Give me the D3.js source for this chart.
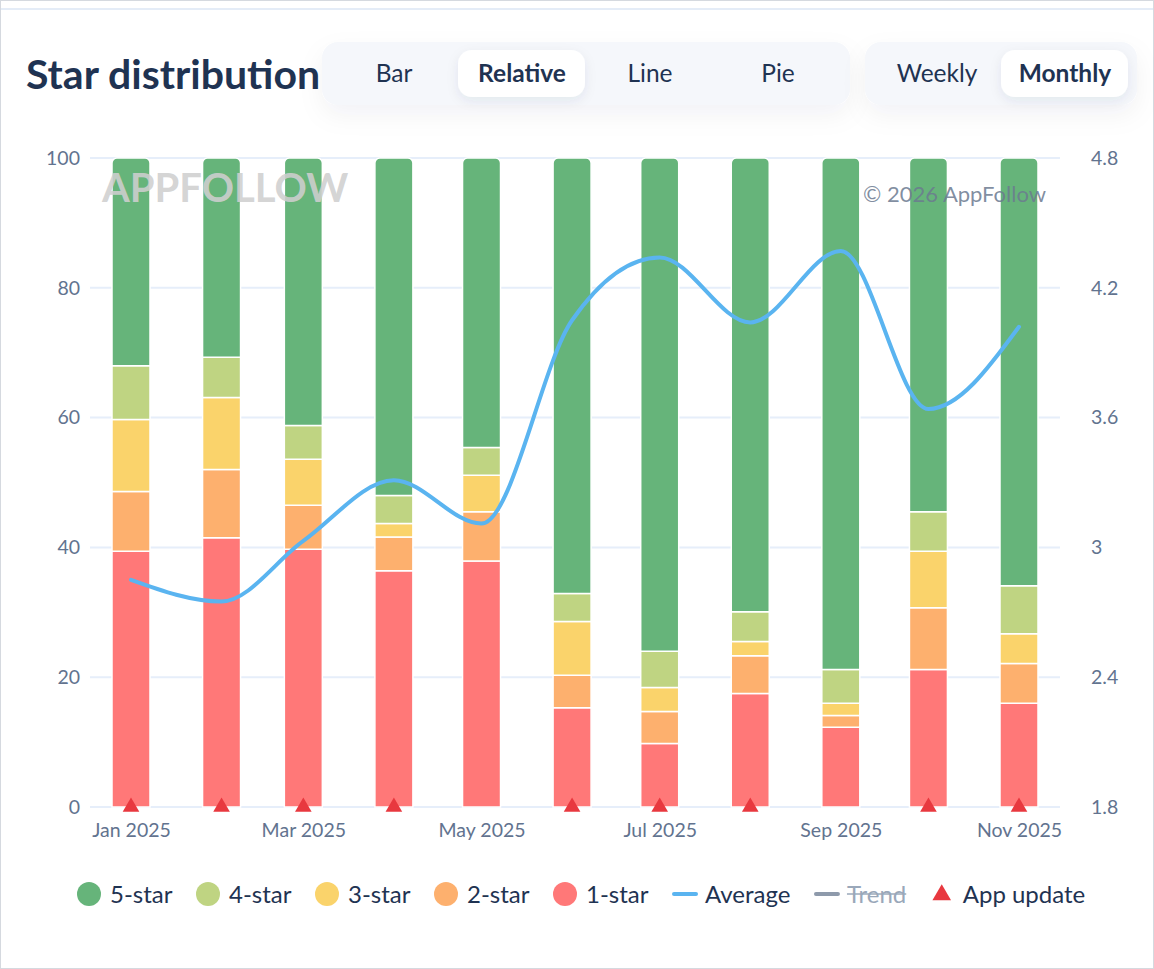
<!DOCTYPE html>
<html>
<head>
<meta charset="utf-8">
<script src="https://cdn.jsdelivr.net/npm/d3@7"></script>
<style>
  body { margin: 0; background: #fff; }
  svg { display: block; font-family: Lato, "Open Sans", sans-serif; }
</style>
</head>
<body>
<div id="chart"></div>
<script>
// monthly data
var months = ["2025-01", "2025-02", "2025-03", "2025-04", "2025-05", "2025-06",
              "2025-07", "2025-08", "2025-09", "2025-10", "2025-11"];
var oneStar   = [39.4, 41.5, 39.7, 36.4, 37.9, 15.3, 9.8, 17.5, 12.3, 21.2, 16.0];
var twoStar   = [9.2, 10.5, 6.8, 5.2, 7.6, 5.0, 4.9, 5.8, 1.8, 9.5, 6.1];
var threeStar = [11.1, 11.1, 7.1, 2.1, 5.6, 8.3, 3.7, 2.2, 1.9, 8.7, 4.6];
var fourStar  = [8.3, 6.2, 5.2, 4.3, 4.3, 4.3, 5.6, 4.6, 5.2, 6.1, 7.4];
var fiveStar  = [32.0, 30.7, 41.2, 52.0, 44.6, 67.1, 76.0, 69.9, 78.8, 54.5, 65.9];
var average   = [2.85, 2.75, 3.03, 3.31, 3.11, 4.05, 4.34, 4.04, 4.37, 3.64, 4.02];
var appUpdates = ["2025-01", "2025-02", "2025-03", "2025-04", "2025-06",
                  "2025-07", "2025-08", "2025-10", "2025-11"];

var leftTicks  = [0, 20, 40, 60, 80, 100];
var rightTicks = [1.8, 2.4, 3, 3.6, 4.2, 4.8];
var xTicks     = ["2025-01", "2025-03", "2025-05", "2025-07", "2025-09", "2025-11"];

var chartTypes = ["Bar", "Relative", "Line", "Pie"];
var periods    = ["Weekly", "Monthly"];

var keys = ["1-star", "2-star", "3-star", "4-star", "5-star"];
var legendKeys = ["5-star", "4-star", "3-star", "2-star", "1-star"];

var width = 1154;
var height = 969;
var navy = "#1f3352";
var axisGrey = "#62738f";

var colour = d3.scaleOrdinal()
    .domain(keys)
    .range(["#ff7878", "#fdb06e", "#fad36b", "#bfd482", "#66b47a"]);

var parse = d3.utcParse("%Y-%m");

var rows = months.map(function(m, i) {
    return {
        date: parse(m),
        "1-star": oneStar[i],
        "2-star": twoStar[i],
        "3-star": threeStar[i],
        "4-star": fourStar[i],
        "5-star": fiveStar[i],
        avg: average[i]
    };
});

var x = d3.scaleUtc()
    .domain([parse("2025-01"), parse("2025-11")])
    .range([131, 1019]);

var y = d3.scaleLinear().domain([0, 100]).range([807, 158]);
var yRight = d3.scaleLinear().domain([1.8, 4.8]).range([807, 158]);

var svg = d3.select("#chart")
    .append("svg")
    .attr("width", width)
    .attr("height", height);

var defs = svg.append("defs");
var shadow = defs.append("filter")
    .attr("id", "soft")
    .attr("x", "-30%").attr("y", "-60%")
    .attr("width", "160%").attr("height", "220%");
shadow.append("feDropShadow")
    .attr("dx", 0).attr("dy", 4)
    .attr("stdDeviation", 6)
    .attr("flood-color", "#1f3352")
    .attr("flood-opacity", 0.08);

var groupShadow = defs.append("filter")
    .attr("id", "groupShadow")
    .attr("x", "-20%").attr("y", "-50%")
    .attr("width", "140%").attr("height", "250%");
groupShadow.append("feDropShadow")
    .attr("dx", 0).attr("dy", 10)
    .attr("stdDeviation", 12)
    .attr("flood-color", "#1f3352")
    .attr("flood-opacity", 0.05);

// card frame
svg.append("rect")
    .attr("x", 0.5).attr("y", 0.5)
    .attr("width", width - 1).attr("height", height - 1)
    .attr("fill", "#fff")
    .attr("stroke", "#d5d9df");
svg.append("line")
    .attr("x1", 1).attr("x2", width - 1)
    .attr("y1", 9).attr("y2", 9)
    .attr("stroke", "#e4ecf7")
    .attr("stroke-width", 2);

// title
svg.append("text")
    .attr("x", 26).attr("y", 89)
    .attr("fill", navy)
    .style("font-size", "41px")
    .style("font-weight", 700)
    .text("Star distribution");

// toggle groups
function toggleGroup(labels, active, x0) {
    var bw = 128;
    var g = svg.append("g").attr("transform", "translate(" + x0 + ",42)");
    g.append("rect")
        .attr("width", labels.length * bw + 16)
        .attr("height", 63)
        .attr("rx", 16)
        .attr("fill", "#f5f7fb")
        .attr("filter", "url(#groupShadow)");
    var b = g.selectAll("g.btn")
        .data(labels)
        .enter()
        .append("g")
        .attr("class", "btn")
        .attr("transform", function(d, i) { return "translate(" + (8 + i * bw) + ",8)"; });
    b.filter(function(d) { return d === active; })
        .append("rect")
        .attr("width", bw - 1)
        .attr("height", 47)
        .attr("rx", 14)
        .attr("fill", "#fff")
        .attr("filter", "url(#soft)");
    b.append("text")
        .attr("x", bw / 2)
        .attr("y", 32)
        .attr("text-anchor", "middle")
        .attr("fill", navy)
        .style("font-size", "24.5px")
        .style("font-weight", function(d) { return d === active ? 700 : 400; })
        .text(function(d) { return d; });
}
toggleGroup(chartTypes, "Relative", 322);
toggleGroup(periods, "Monthly", 865);

// grid lines
svg.append("g")
    .selectAll("line")
    .data(leftTicks)
    .enter()
    .append("line")
    .attr("x1", 90).attr("x2", 1060)
    .attr("y1", function(d) { return y(d); })
    .attr("y2", function(d) { return y(d); })
    .attr("stroke", "#e6eefa")
    .attr("stroke-width", 2);

// axes
var leftAxis = svg.append("g")
    .attr("transform", "translate(80,0)")
    .call(d3.axisLeft(y).tickValues(leftTicks).tickSize(0).tickPadding(0));
var rightAxis = svg.append("g")
    .attr("transform", "translate(1091,0)")
    .call(d3.axisRight(yRight).tickValues(rightTicks).tickSize(0).tickPadding(0)
        .tickFormat(d3.format("~g")));
var bottomAxis = svg.append("g")
    .attr("transform", "translate(0,807)")
    .call(d3.axisBottom(x).tickValues(xTicks.map(parse)).tickSize(0).tickPadding(16)
        .tickFormat(d3.utcFormat("%b %Y")));

[leftAxis, rightAxis, bottomAxis].forEach(function(a) {
    a.select(".domain").remove();
    a.selectAll("text")
        .attr("fill", axisGrey)
        .style("font-family", "Lato, sans-serif")
        .style("font-size", "19.5px");
});

// stacked bars
var stacked = d3.stack().keys(keys)(rows);
var bw = 38;
var radius = 5;

function topRounded(x0, y0, w, h, r) {
    var p = d3.path();
    p.moveTo(x0, y0 + h);
    p.lineTo(x0, y0 + r);
    p.arcTo(x0, y0, x0 + r, y0, r);
    p.lineTo(x0 + w - r, y0);
    p.arcTo(x0 + w, y0, x0 + w, y0 + r, r);
    p.lineTo(x0 + w, y0 + h);
    p.closePath();
    return p.toString();
}

var layers = svg.append("g")
    .selectAll("g.layer")
    .data(stacked)
    .enter()
    .append("g")
    .attr("class", "layer")
    .attr("fill", function(d) { return colour(d.key); });

layers.selectAll("path")
    .data(function(d) { return d.map(function(s) { return { s: s, top: d.key === "5-star" }; }); })
    .enter()
    .append("path")
    .attr("d", function(d) {
        var x0 = x(d.s.data.date) - bw / 2;
        var y0 = y(d.s[1]);
        var h = y(d.s[0]) - y(d.s[1]);
        return topRounded(x0, y0, bw, h, d.top ? radius : 0);
    })
    .attr("stroke", "#fff")
    .attr("stroke-width", 1.5);

// watermark
svg.append("text")
    .attr("x", 102).attr("y", 202)
    .attr("fill", "#cfcfcf")
    .attr("fill-opacity", 0.9)
    .style("font-size", "40px")
    .style("font-weight", 700)
    .text("APPFOLLOW");
svg.append("text")
    .attr("x", 1046).attr("y", 202)
    .attr("text-anchor", "end")
    .attr("fill", "#6b7a90")
    .attr("fill-opacity", 0.85)
    .style("font-size", "22px")
    .text("\u00a9 2026 AppFollow");

// average line
var line = d3.line()
    .x(function(d) { return x(d.date); })
    .y(function(d) { return yRight(d.avg); })
    .curve(d3.curveMonotoneX);

svg.append("path")
    .datum(rows)
    .attr("d", line)
    .attr("fill", "none")
    .attr("stroke", "#5ab4f0")
    .attr("stroke-width", 4)
    .attr("stroke-linecap", "round");

// app update markers
var tri = d3.symbol().type(d3.symbolTriangle).size(120);
svg.append("g")
    .selectAll("path")
    .data(appUpdates)
    .enter()
    .append("path")
    .attr("d", tri)
    .attr("transform", function(d) { return "translate(" + x(parse(d)) + ",807)"; })
    .attr("fill", "#e8383f");

// legend
var legendItems = legendKeys.map(function(k) { return { label: k, type: "dot", col: colour(k) }; })
    .concat([
        { label: "Average", type: "line", col: "#5ab4f0" },
        { label: "Trend", type: "line", col: "#8e9aab", off: true },
        { label: "App update", type: "tri", col: "#e8383f" }
    ]);

var legend = svg.append("g").attr("transform", "translate(0,894)");
var item = legend.selectAll("g")
    .data(legendItems)
    .enter()
    .append("g");

item.append("text")
    .attr("x", 33)
    .attr("y", 8.5)
    .attr("fill", function(d) { return d.off ? "#9aa8ba" : navy; })
    .style("font-size", "24px")
    .text(function(d) { return d.label; });

item.each(function(d) {
    var g = d3.select(this);
    if (d.type === "dot") {
        g.append("circle").attr("cx", 12).attr("cy", 0).attr("r", 12).attr("fill", d.col);
    } else if (d.type === "line") {
        g.append("line")
            .attr("x1", 2).attr("x2", 24)
            .attr("stroke", d.col)
            .attr("stroke-width", 4)
            .attr("stroke-linecap", "round");
    } else {
        g.append("path")
            .attr("d", d3.symbol().type(d3.symbolTriangle).size(150))
            .attr("transform", "translate(12,1)")
            .attr("fill", d.col);
    }
    if (d.off) {
        var t = g.select("text");
        var len = t.node().getComputedTextLength();
        g.append("line")
            .attr("x1", 33).attr("x2", 33 + len)
            .attr("y1", 0).attr("y2", 0)
            .attr("stroke", "#9aa8ba")
            .attr("stroke-width", 1.5);
    }
});

var cursor = 77;
item.attr("transform", function() {
    var tx = cursor;
    var len = d3.select(this).select("text").node().getComputedTextLength();
    cursor += 33 + len + 23.5;
    return "translate(" + tx + ",0)";
});
</script>
</body>
</html>
